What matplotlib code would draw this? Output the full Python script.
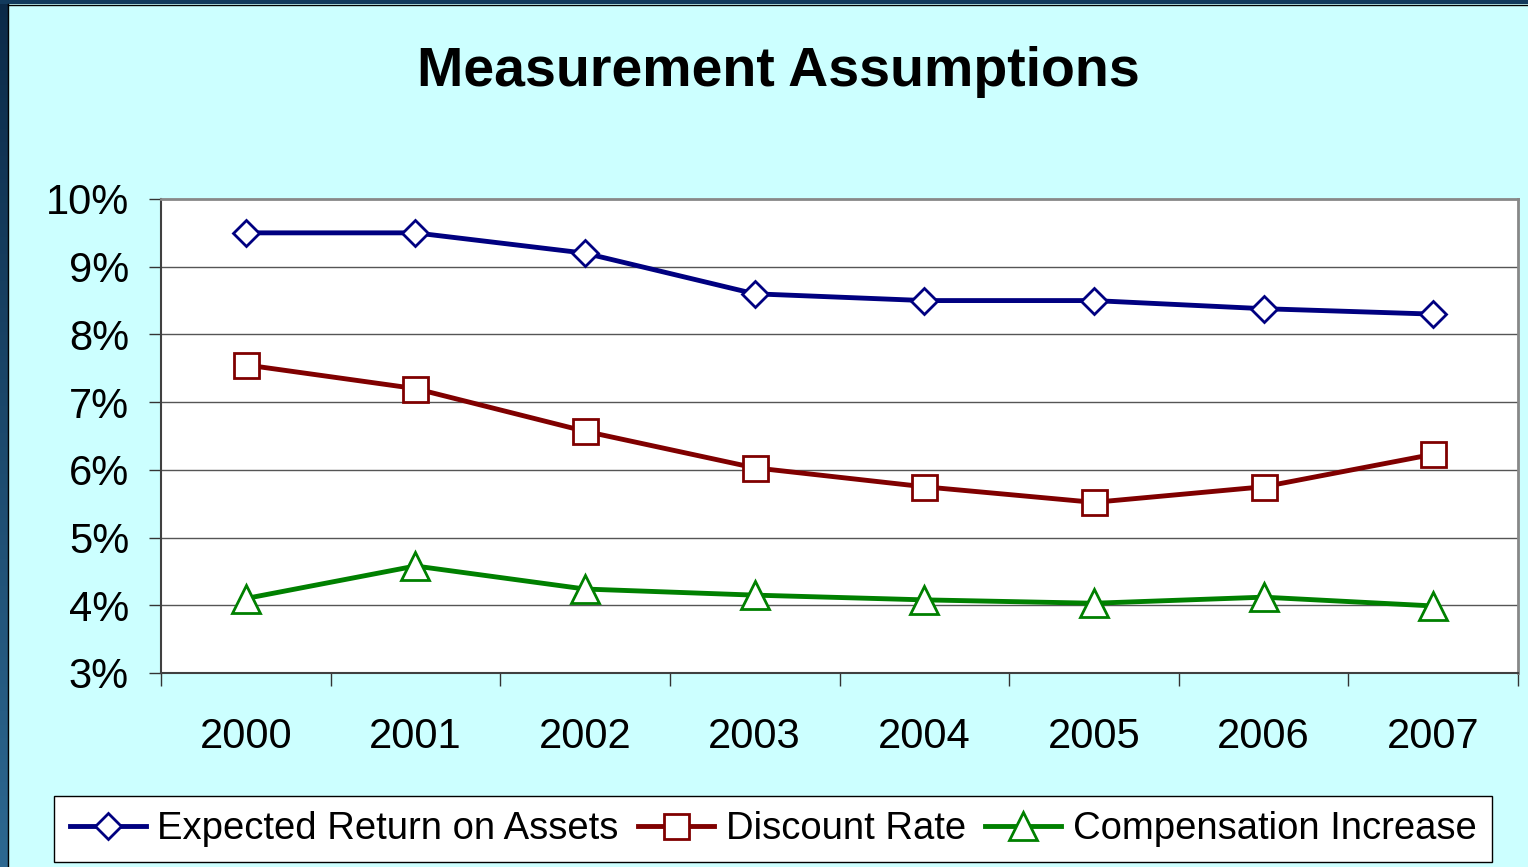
import numpy as np
import matplotlib.pyplot as plt
from matplotlib.patches import Rectangle
from matplotlib.lines import Line2D
from matplotlib.colors import LinearSegmentedColormap

plt.rcParams['font.family'] = ['Liberation Sans', 'DejaVu Sans']

years = ['2000', '2001', '2002', '2003', '2004', '2005', '2006', '2007']
expected_return = [9.5, 9.5, 9.2, 8.6, 8.5, 8.5, 8.38, 8.3]
discount_rate = [7.55, 7.2, 6.57, 6.03, 5.75, 5.52, 5.75, 6.23]
comp_increase = [4.1, 4.58, 4.24, 4.15, 4.08, 4.03, 4.12, 3.99]
y_ticks = [3, 4, 5, 6, 7, 8, 9, 10]

W, H = 1528, 867
fig = plt.figure(figsize=(W / 100, H / 100), dpi=100)
fig.patch.set_facecolor('#ccffff')

# dark frame on the left and top edges
edge = fig.add_axes([0, 0, 8 / W, 1])
grad = np.linspace(0, 1, 256).reshape(-1, 1)
edge.imshow(grad, aspect='auto', cmap=LinearSegmentedColormap.from_list(
    'edge', ['#0b2a48', '#2d6891']), extent=[0, 1, 0, 1])
edge.set_axis_off()
fig.add_artist(Rectangle((0, 1 - 4 / H), 1, 4 / H, transform=fig.transFigure,
                         facecolor='#123a5c', edgecolor='none'))
fig.add_artist(Line2D([8 / W, 8 / W], [0, 1 - 4 / H], transform=fig.transFigure, color='black', lw=1))
fig.add_artist(Line2D([8 / W, 1], [1 - 4.5 / H, 1 - 4.5 / H], transform=fig.transFigure, color='black', lw=1))

ax = fig.add_axes([161 / W, 1 - 673 / H, (1518 - 161) / W, (673 - 199) / H])
ax.set_facecolor('white')

x = np.arange(len(years))
ax.plot(x, expected_return, color='#000080', lw=3.5, marker='D', ms=13.5,
        mfc='white', mec='#000080', mew=2, label='Expected Return on Assets', zorder=3)
ax.plot(x, discount_rate, color='#800000', lw=3.5, marker='s', ms=18,
        mfc='white', mec='#800000', mew=2, label='Discount Rate', zorder=3)
ax.plot(x, comp_increase, color='#008000', lw=3.5, marker='^', ms=19.5,
        mfc='white', mec='#008000', mew=2, label='Compensation Increase', zorder=3)

ax.set_xlim(-0.5, len(years) - 0.5)
ax.set_ylim(3, 10)
ax.set_yticks(y_ticks)
ax.set_yticklabels([f'{v}%' for v in y_ticks], fontsize=30)
ax.tick_params(axis='y', length=9, width=1, color='#333333', pad=14)

ax.set_xticks(np.arange(-0.5, len(years), 1.0))
ax.set_xticklabels([])
ax.tick_params(axis='x', which='major', length=9, width=1, color='#333333')
ax.set_xticks(x, minor=True)
ax.set_xticklabels(years, minor=True, fontsize=30)
ax.tick_params(axis='x', which='minor', length=0, pad=32)

for v in y_ticks[1:-1]:
    ax.axhline(v, color='#555555', lw=1, zorder=1)

for s in ['top', 'right']:
    ax.spines[s].set_color('#888888')
    ax.spines[s].set_linewidth(2)
for s in ['left', 'bottom']:
    ax.spines[s].set_color('#404040')
    ax.spines[s].set_linewidth(1.5)

fig.text(778 / W, 1 - 72 / H, 'Measurement Assumptions', ha='center', va='center',
         fontsize=40, fontweight='bold')

leg = fig.legend(loc='center', bbox_to_anchor=(773 / W, 1 - 829 / H), ncol=3,
                 fontsize=27.5, frameon=True, fancybox=False, handlelength=2.0,
                 handletextpad=0.3, columnspacing=0.5, borderpad=0.4,
                 borderaxespad=0)
leg.get_frame().set_edgecolor('black')
leg.get_frame().set_linewidth(1)
leg.get_frame().set_facecolor('white')
leg.get_frame().set_alpha(1)

fig.savefig('out.png', dpi=100, facecolor=fig.get_facecolor())
